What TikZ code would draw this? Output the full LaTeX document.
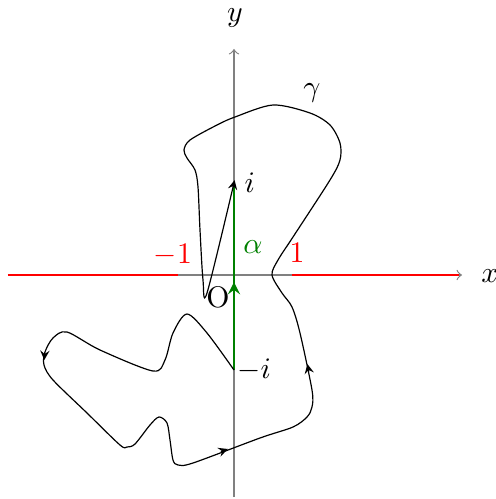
\documentclass[tikz,border=0pt]{standalone}
\usepackage{xcolor}
\usepackage{tikz}
\usepackage{amsmath}
\usetikzlibrary{positioning, calc, decorations.markings}
\definecolor{grn}{HTML}{008000}

\begin{document}
\begin{tikzpicture}[scale=0.59,
  axis/.style={gray,->},
  tip/.style={-stealth,shorten >=-1pt},
  upflow/.style={postaction={decorate},decoration={markings,
    mark=at position 0.47 with {\arrow{stealth}}}}]
  \useasboundingbox (-4.68,-4.48) rectangle (5.24,5.5);
  \coordinate (xl) at (-4.52,0);
  \coordinate (xr) at (4.56,0);
  \coordinate (yb) at (0,-4.44);
  \coordinate (yt) at (0,4.52);
  \coordinate (m1) at (-1.12,0);
  \coordinate (p1) at (1.16,0);
  \coordinate (xe) at (4.5,0);
  \coordinate (I) at (0,1.84);
  \coordinate (mI) at (0,-1.9);
  \coordinate (a1) at (-3.79,-1.64);
  \coordinate (a2) at (-0.18,-3.5);
  \coordinate (a3) at (1.48,-1.84);
  \draw[axis] (xl) -- (xr);
  \draw[axis] (yb) -- (yt);
  \draw[red,thick] (xl) -- (m1);
  \draw[red,thick] (p1) -- (xe);
  \draw[grn,thick,upflow] (mI) -- (I);
  \draw plot[smooth] coordinates {(0,-1.9) (-0.54,-1.16) (-0.94,-0.78)
    (-1.22,-1.16) (-1.38,-1.7) (-1.62,-1.92) (-2.68,-1.5) (-3.34,-1.14)
    (-3.62,-1.26) (-3.78,-1.54) (-3.8,-1.8) (-3.62,-2.1) (-2.94,-2.76)
    (-2.28,-3.4) (-2.14,-3.44) (-1.98,-3.38) (-1.68,-3.0) (-1.5,-2.84)
    (-1.34,-2.96) (-1.28,-3.3) (-1.22,-3.7) (-1.12,-3.8) (-0.82,-3.76)
    (0.52,-3.26) (1.18,-3.04) (1.46,-2.84) (1.56,-2.64) (1.56,-2.3)
    (1.32,-1.16) (1.16,-0.64) (0.96,-0.36) (0.76,0) (0.88,0.3) (1.18,0.76)
    (1.92,1.9) (2.12,2.3) (2.12,2.64) (1.92,3.0) (1.52,3.24) (0.78,3.4)
    (0.02,3.16) (-0.34,3.0) (-0.88,2.7) (-1.0,2.5) (-0.94,2.34) (-0.78,2.1)
    (-0.72,1.76) (-0.68,0.9) (-0.62,-0.1) (-0.54,-0.36) (0,1.84)};
  \draw[tip] ($(a1)+(0.005,0.09)$) -- (a1);
  \draw[tip] ($(a2)+(-0.084,-0.031)$) -- (a2);
  \draw[tip] ($(a3)+(0.018,-0.088)$) -- (a3);
  \draw[tip] ($(I)+(-0.02,-0.09)$) -- (I);
  \node (ylab) at (0.02,5.14) {$y$};
  \node (xlab) at (5.12,-0.02) {$x$};
  \node[text=red] (m1lab) at (-1.22,0.4) {$-1$};
  \node[text=red] (p1lab) at (1.26,0.44) {$1$};
  \node[text=grn] (alab) at (0.38,0.56) {$\alpha$};
  \node[right] (ilab) at (I) {$i$};
  \node[right,inner sep=1pt] (milab) at (mI) {$-i$};
  \node (olab) at (-0.32,-0.44) {O};
  \node (glab) at (1.56,3.64) {$\gamma$};
\end{tikzpicture}
\end{document}
